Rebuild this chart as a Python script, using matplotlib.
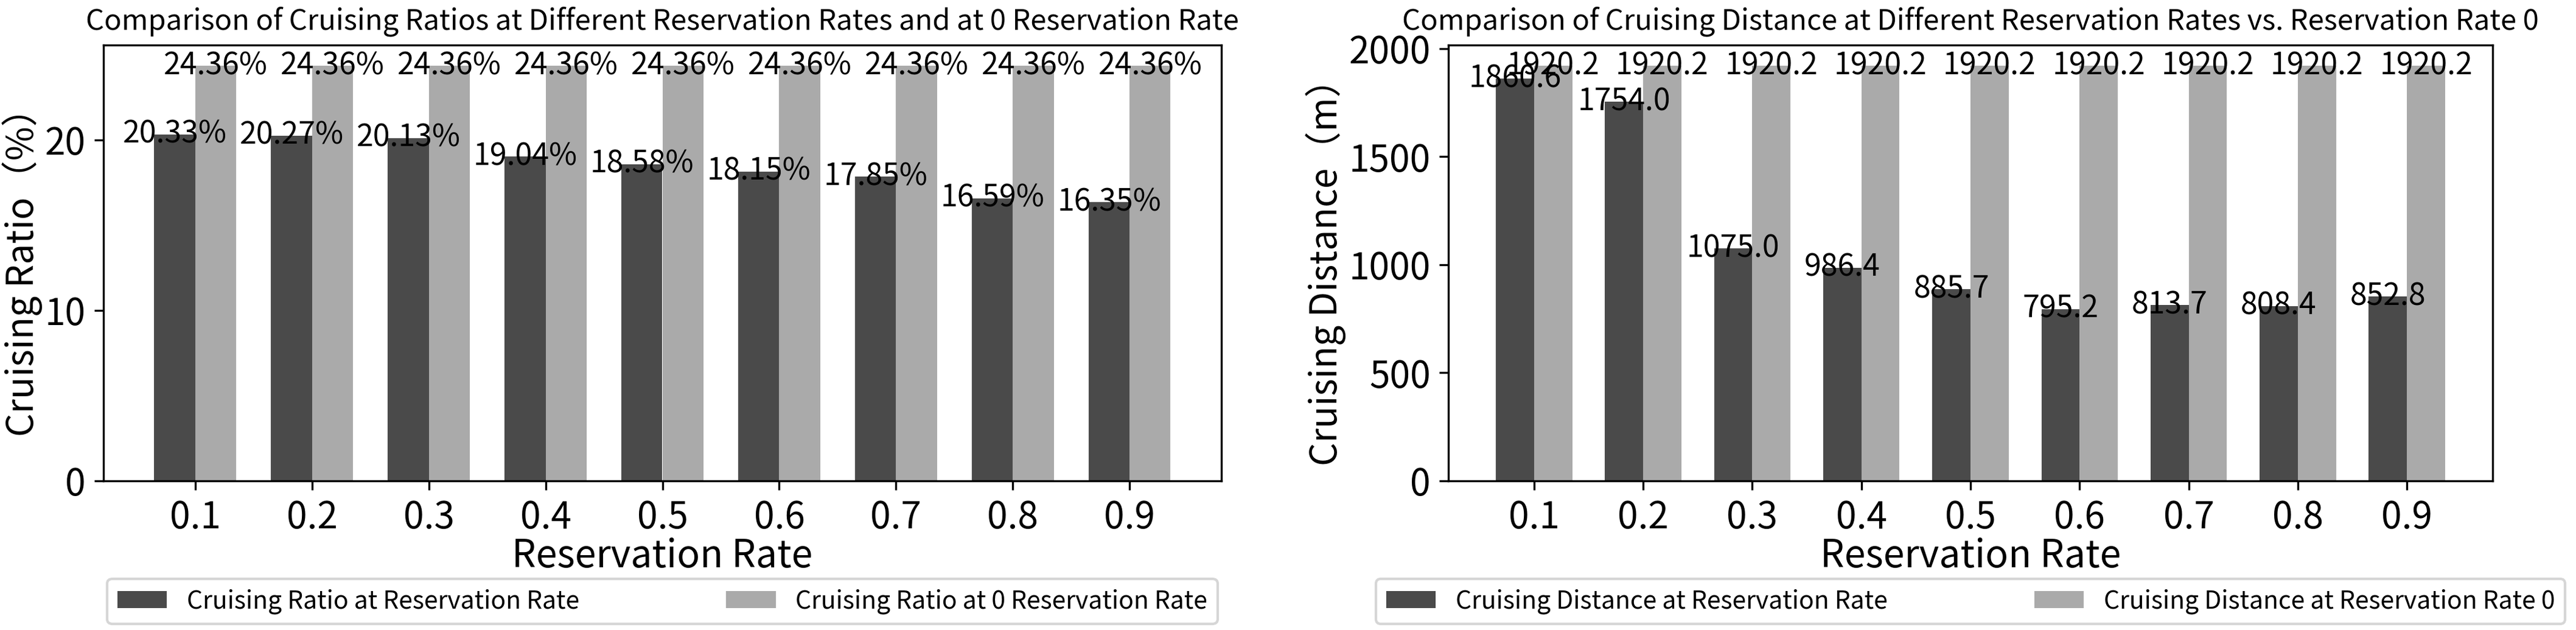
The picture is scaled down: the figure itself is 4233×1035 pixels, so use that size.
import numpy as np
import matplotlib
matplotlib.use('Agg')
import matplotlib.pyplot as plt
from matplotlib import font_manager
from matplotlib.ticker import MultipleLocator

names = {f.name for f in font_manager.fontManager.ttflist}
main_font = 'Noto Sans Mono CJK SC' if 'Noto Sans Mono CJK SC' in names else 'Noto Sans CJK SC'
plt.rcParams['font.family'] = [main_font, 'DejaVu Sans']

rates = ['0.1', '0.2', '0.3', '0.4', '0.5', '0.6', '0.7', '0.8', '0.9']
ratio_at_rate = [20.33, 20.27, 20.13, 19.04, 18.58, 18.15, 17.85, 16.59, 16.35]
ratio_at_zero = [24.36, 24.36, 24.36, 24.36, 24.36, 24.36, 24.36, 24.36, 24.36]
dist_at_rate = [1860.6, 1754.0, 1075.0, 986.4, 885.7, 795.2, 813.7, 808.4, 852.8]
dist_at_zero = [1920.2, 1920.2, 1920.2, 1920.2, 1920.2, 1920.2, 1920.2, 1920.2, 1920.2]

dark = '#4a4a4a'
light = '#aaaaaa'
width = 0.35
x = np.arange(len(rates))

fig = plt.figure(figsize=(4233/300, 1035/300), dpi=300)
ax1 = fig.add_axes([170/4233, 1-790/1035, 1837/4233, 716/1035])
ax2 = fig.add_axes([2380/4233, 1-790/1035, 1716/4233, 716/1035])

def draw(ax, a, b, la, lb, fmt, title, ylabel, step):
    bars1 = ax.bar(x - width/2, a, width, color=dark, label=la)
    bars2 = ax.bar(x + width/2, b, width, color=light, label=lb)
    for bars in (bars1, bars2):
        for r in bars:
            h = r.get_height()
            ax.text(r.get_x() + r.get_width()/2, h, fmt(h), ha='center', va='center', fontsize=12)
    ax.set_title(title, fontsize=11.3)
    ax.set_xlabel('Reservation Rate', fontsize=15, labelpad=0)
    ax.set_ylabel(ylabel, fontsize=14.5, labelpad=1)
    ax.yaxis.set_major_locator(MultipleLocator(step))
    ax.set_xticks(x)
    ax.set_xticklabels(rates)
    ax.tick_params(labelsize=14.5)
    ax.legend(loc='upper center', bbox_to_anchor=(0.5, -0.225), ncol=2, fontsize=9.8,
              columnspacing=5.9, borderaxespad=0)

draw(ax1, ratio_at_rate, ratio_at_zero, 'Cruising Ratio at Reservation Rate',
     'Cruising Ratio at 0 Reservation Rate', lambda v: f'{v:.2f}%',
     'Comparison of Cruising Ratios at Different Reservation Rates and at 0 Reservation Rate',
     'Cruising Ratio（%）', 10)
draw(ax2, dist_at_rate, dist_at_zero, 'Cruising Distance at Reservation Rate',
     'Cruising Distance at Reservation Rate 0', lambda v: f'{v:.1f}',
     'Comparison of Cruising Distance at Different Reservation Rates vs. Reservation Rate 0',
     'Cruising Distance（m）', 500)

fig.savefig('out.png', dpi=300)
